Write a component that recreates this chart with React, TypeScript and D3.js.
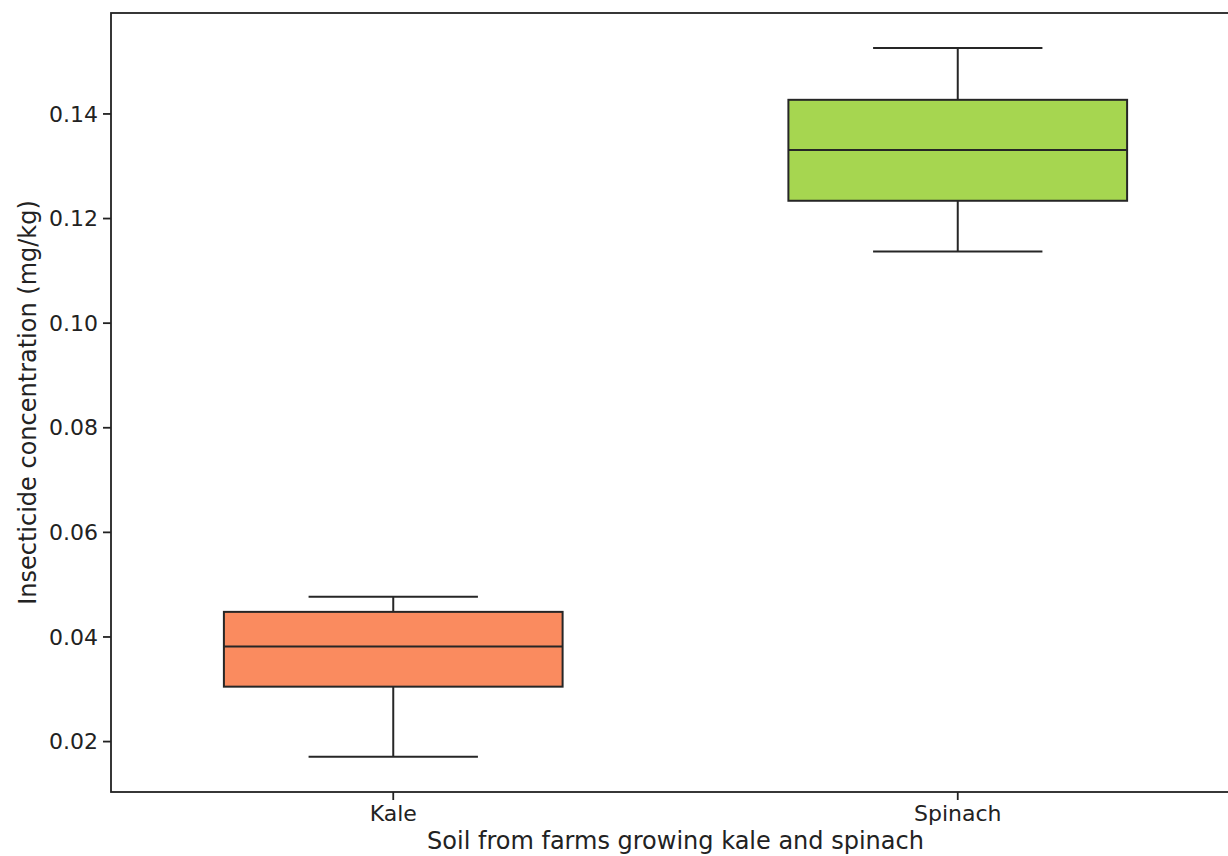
import { useMemo } from 'react';
import * as d3 from 'd3';

const CATEGORIES = ['Kale', 'Spinach'];
const WHISKER_LOW = [0.0171, 0.1137];
const Q1 = [0.0305, 0.1234];
const MEDIAN = [0.0382, 0.1331];
const Q3 = [0.0448, 0.1427];
const WHISKER_HIGH = [0.0477, 0.1526];
const Y_TICKS = [0.02, 0.04, 0.06, 0.08, 0.10, 0.12, 0.14];
const FILLS = ['#fa8b5f', '#a6d650'];

const W = 1228, H = 856;
const margin = { top: 13, right: -12, bottom: 64, left: 111 };
const innerW = W - margin.left - margin.right;
const innerH = H - margin.top - margin.bottom;
const FONT = 'DejaVu Sans, sans-serif';
const EDGE = '#262626';

export default function App() {
  const x = useMemo(() => d3.scaleLinear().domain([-0.5, 1.5]).range([0, innerW]), []);
  const y = useMemo(() => d3.scaleLinear().domain([0.01036, 0.1593]).range([innerH, 0]), []);
  const unit = x(1) - x(0);

  return (
    <>
      <style>{`body{margin:0}`}</style>
      <svg width={W} height={H} style={{ display: 'block', background: '#fff' }}>
        <g transform={`translate(${margin.left},${margin.top})`}>
          {CATEGORIES.map((c, i) => {
            const cx = x(i);
            const bw = unit * 0.6;
            const cw = unit * 0.3;
            return (
              <g key={c}>
                {/* whiskers */}
                <line x1={cx} x2={cx} y1={y(Q3[i])} y2={y(WHISKER_HIGH[i])} stroke={EDGE} strokeWidth={2} />
                <line x1={cx} x2={cx} y1={y(Q1[i])} y2={y(WHISKER_LOW[i])} stroke={EDGE} strokeWidth={2} />
                <line x1={cx - cw / 2} x2={cx + cw / 2} y1={y(WHISKER_HIGH[i])} y2={y(WHISKER_HIGH[i])} stroke={EDGE} strokeWidth={2} />
                <line x1={cx - cw / 2} x2={cx + cw / 2} y1={y(WHISKER_LOW[i])} y2={y(WHISKER_LOW[i])} stroke={EDGE} strokeWidth={2} />
                {/* box */}
                <rect x={cx - bw / 2} y={y(Q3[i])} width={bw} height={y(Q1[i]) - y(Q3[i])}
                  fill={FILLS[i]} stroke={EDGE} strokeWidth={2} />
                <line x1={cx - bw / 2} x2={cx + bw / 2} y1={y(MEDIAN[i])} y2={y(MEDIAN[i])} stroke={EDGE} strokeWidth={2} />
              </g>
            );
          })}

          {/* spines */}
          <rect x={0} y={0} width={innerW} height={innerH} fill="none" stroke="#222" strokeWidth={1.8} />

          {/* y ticks */}
          {Y_TICKS.map(t => (
            <g key={t} transform={`translate(0,${y(t)})`}>
              <line x1={-8} x2={0} stroke="#222" strokeWidth={1.8} />
              <text x={-13} dy="0.35em" textAnchor="end" fontFamily={FONT} fontSize={22} fill="#222">
                {d3.format('.2f')(t)}
              </text>
            </g>
          ))}

          {/* x ticks */}
          {CATEGORIES.map((c, i) => (
            <g key={c} transform={`translate(${x(i)},${innerH})`}>
              <line y1={0} y2={8} stroke="#222" strokeWidth={1.8} />
              <text y={29} textAnchor="middle" fontFamily={FONT} fontSize={22} fill="#222">{c}</text>
            </g>
          ))}

          <text x={innerW / 2} y={innerH + 57} textAnchor="middle" fontFamily={FONT} fontSize={24} fill="#222">
            Soil from farms growing kale and spinach
          </text>
          <text transform={`translate(${-83},${innerH / 2}) rotate(-90)`} dy="0.35em" textAnchor="middle"
            fontFamily={FONT} fontSize={24} fill="#222">
            Insecticide concentration (mg/kg)
          </text>
        </g>
      </svg>
    </>
  );
}
